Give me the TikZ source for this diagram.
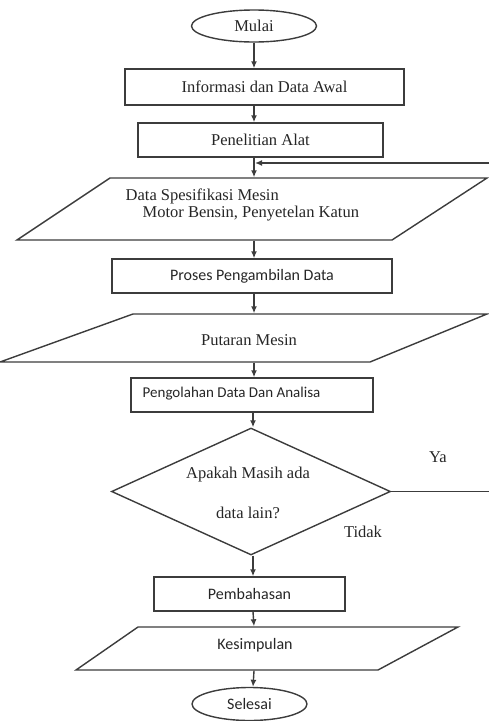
\documentclass[tikz,border=0pt]{standalone}
\usepackage{fontspec}
\setmainfont{Liberation Serif}
\newfontfamily\calfont{Carlito}
\usetikzlibrary{arrows.meta,shapes.geometric}
\definecolor{ln}{HTML}{3C3C3C}
\begin{document}
\begin{tikzpicture}[x=1pt,y=-1pt,
  every path/.style={line width=1.4pt},
  box/.style={draw=ln,line width=1.4pt,rectangle,inner sep=0pt},
  term/.style={draw=ln,line width=1.4pt,ellipse,inner sep=0pt},
  hold/.style={inner sep=0pt,minimum width=10pt},
  serif/.style={font=\fontsize{16.5}{18}\selectfont,text=black!85},
  sans/.style={font=\calfont\fontsize{16}{18}\selectfont,text=black!85},
  arr/.style={draw=ln,line width=1.4pt,-{Latex[length=7pt,width=6pt]}},
  pl/.style={draw=ln,line width=1.4pt,line join=miter}]
\useasboundingbox (0,0) rectangle (488,721);

% start
\node[term,minimum width=125pt,minimum height=32pt,serif] (mulai) at (254,26) {Mulai};
\node[box,minimum width=279pt,minimum height=36pt,serif] (info) at (264.5,87) {Informasi dan Data Awal};
\node[box,minimum width=245pt,minimum height=34pt,serif] (pen) at (260.5,140) {Penelitian Alat};

% data spesifikasi (parallelogram)
\draw[pl] (110,178) -- (487,178) -- (392,240) -- (17,240) -- cycle;
\node[hold,minimum height=62pt] (spec) at (254,209) {};
\node[serif,anchor=west,inner sep=0pt] (spec1) at (125,196) {Data Spesifikasi Mesin};
\node[serif,anchor=west,inner sep=0pt] (spec2) at (142,214) {Motor Bensin, Penyetelan Katun};

\node[box,minimum width=280pt,minimum height=34pt,sans] (proses) at (252,276) {Proses Pengambilan Data};

% putaran mesin (parallelogram)
\draw[pl] (133,314) -- (487,314) -- (370,362) -- (0,362) -- cycle;
\node[hold,minimum height=48pt] (put) at (254,338) {};
\node[serif,inner sep=0pt] (puttext) at (249,340) {Putaran Mesin};

\node[box,minimum width=242pt,minimum height=34pt] (peng) at (252,395) {};
\node[sans,font=\calfont\fontsize{15}{17}\selectfont,anchor=west,inner sep=0pt] (pengtext) at (142,394) {Pengolahan Data Dan Analisa};

% decision
\node[draw=ln,line width=1.4pt,diamond,minimum width=279pt,minimum height=127pt,inner sep=0pt] (dia) at (251,491.5) {};
\node[serif,inner sep=0pt] (q1) at (248,475) {Apakah Masih ada};
\node[serif,inner sep=0pt] (q2) at (248,513) {data lain?};
\node[serif,inner sep=0pt] (ya) at (438,457) {Ya};
\node[serif,inner sep=0pt] (tidak) at (363,532) {Tidak};

\node[box,minimum width=191pt,minimum height=34pt,sans] (pemb) at (249.5,594) {Pembahasan};

% kesimpulan (parallelogram)
\draw[pl] (138,627) -- (458,627) -- (378,670) -- (76,670) -- cycle;
\node[hold,minimum height=43pt] (kes) at (254,648.5) {};
\node[sans,inner sep=0pt] (kestext) at (255,645) {Kesimpulan};

\node[term,minimum width=115pt,minimum height=33pt,sans] (sel) at (249.5,704) {Selesai};

% flow arrows
\draw[arr] (254,0 |- mulai.south) -- (254,0 |- info.north);
\draw[arr] (254,0 |- info.south) -- (254,0 |- pen.north);
\draw[arr] (254,0 |- pen.south) -- (spec.north);
\draw[arr] (spec.south) -- (254,0 |- proses.north);
\draw[arr] (254,0 |- proses.south) -- (put.north);
\draw[arr] (put.south) -- (254,0 |- peng.north);
\draw[arr] (253,0 |- peng.south) -- (253,0 |- dia.north);
\draw[arr] (253,0 |- dia.south) -- (253,0 |- pemb.north);
\draw[arr] (253,0 |- pemb.south) -- (kes.north);
\draw[arr] (kes.south) -- (253,0 |- sel.north);

% feedback loop (Ya)
\coordinate (c1) at (491,491.5);
\coordinate (c2) at (491,163);
\coordinate (jn) at (255,163);
\draw[arr] (dia.east) -- (c1) -- (c2) -- (jn);
\end{tikzpicture}
\end{document}
